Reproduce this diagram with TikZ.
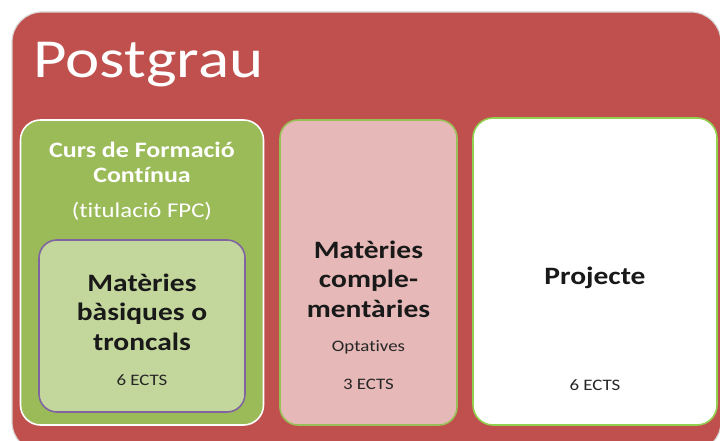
\documentclass[tikz,border=0pt]{standalone}
\usepackage{fontspec}
\setmainfont{Carlito}[FakeStretch=1.18, Ligatures={NoCommon}]
\definecolor{postred}{HTML}{C0504D}
\definecolor{cursgreen}{HTML}{9BBB59}
\definecolor{basicgreen}{HTML}{C3D69B}
\definecolor{basicpurple}{HTML}{8064A2}
\definecolor{complpink}{HTML}{E6B9B8}
\definecolor{limegreen}{HTML}{92D050}

\begin{document}
\begin{tikzpicture}[x=1pt,y=-1pt]
	\tikzset{
	%boxes
	caixa/.style={
		rectangle,
		rounded corners=18pt,
		line width=1.6pt,
		inner sep=0pt},
	% text styles
	gran/.style={font=\bfseries\fontsize{25}{29.5}\selectfont, align=center, text=black!90},
	petit/.style={font=\fontsize{16}{17}\selectfont, text=black!85},
	blanc/.style={text=white, align=center}
}
	\useasboundingbox (0,0) rectangle (720,441);
	\clip (0,0) rectangle (720,441);

	%outer box
	\draw[fill=postred, draw=black!15, line width=1.2pt, rounded corners=30pt] (12,12) rectangle (721,452);
	\node[blanc, anchor=base west, font=\fontsize{55}{60}\selectfont] at (30,78) (postgrau) {Postgrau};

	%column 1
	\node[caixa, fill=cursgreen, draw=white, rounded corners=20pt, minimum width=243pt, minimum height=305pt] at (142,272.5) (curs) {};
	\node[blanc, font=\bfseries\fontsize{22}{25}\selectfont] at (142,162) (curstit) {Curs de Formació\\Contínua};
	\node[blanc, font=\fontsize{21}{22}\selectfont] at (142,211) (titulacio) {(titulació FPC)};
	\node[caixa, fill=basicgreen, draw=basicpurple, minimum width=206pt, minimum height=172pt] at (142,326) (basiques) {};
	\node[gran] at (142,312) (basiquestit) {Matèries\\bàsiques o\\troncals};
	\node[petit] at (142,380) (basiquesects) {6 ECTS};

	%column 2
	\node[caixa, fill=complpink, draw=cursgreen!80!limegreen, minimum width=177pt, minimum height=305pt] at (368.5,272.5) (compl) {};
	\node[gran] at (368.5,279) (compltit) {Matèries\\comple-\\mentàries};
	\node[petit] at (368.5,347) (optatives) {Optatives};
	\node[petit] at (368.5,384) (complects) {3 ECTS};

	%column 3
	\node[caixa, fill=white, draw=limegreen, rounded corners=20pt, minimum width=244pt, minimum height=307pt] at (595,271.5) (projecte) {};
	\node[gran] at (595,278) (projectetit) {Projecte};
	\node[petit] at (595,385) (projecteects) {6 ECTS};
	\end{tikzpicture}
\end{document}
